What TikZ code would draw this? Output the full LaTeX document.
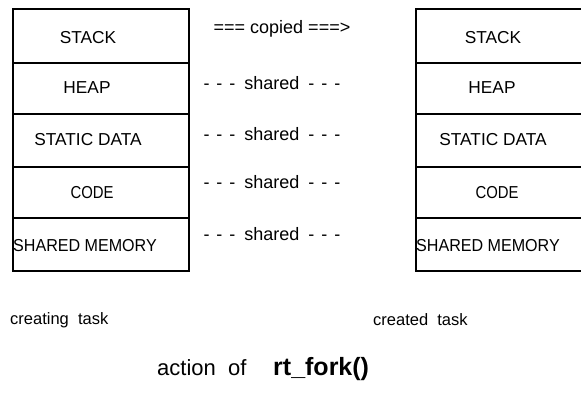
\documentclass[tikz,border=0pt]{standalone}
\usepackage{fontspec}
\setmainfont{Liberation Sans}
\begin{document}
\begin{tikzpicture}[x=1pt,y=-1pt,
  cell/.style={draw, line width=1.6pt, minimum width=176pt, inner sep=0pt, anchor=north west},
  seglabel/.style={font=\fontsize{17.3}{19}\selectfont, inner sep=0pt},
  midlabel/.style={font=\fontsize{18}{20}\selectfont, inner sep=0pt},
  tasklabel/.style={font=\fontsize{16.5}{19}\selectfont, inner sep=0pt, anchor=west}]
\useasboundingbox (0,0) rectangle (581,392);
\clip (0,0) rectangle (581,392);
% left box
\node[cell, minimum height=54pt] (lstack) at (12,8) {};
\node[cell, minimum height=51pt] (lheap) at (12,62) {};
\node[cell, minimum height=53pt] (lstatic) at (12,113) {};
\node[cell, minimum height=51pt] (lcode) at (12,166) {};
\node[cell, minimum height=53pt] (lshm) at (12,217) {};
% right box (extends past right edge)
\node[cell, minimum height=54pt] (rstack) at (415,8) {};
\node[cell, minimum height=51pt] (rheap) at (415,62) {};
\node[cell, minimum height=53pt] (rstatic) at (415,113) {};
\node[cell, minimum height=51pt] (rcode) at (415,166) {};
\node[cell, minimum height=53pt] (rshm) at (415,217) {};
% left labels
\node[seglabel] (t1) at (88,38) {STACK};
\node[seglabel] (t2) at (87,88) {HEAP};
\node[seglabel] (t3) at (88,140) {STATIC DATA};
\node[seglabel] (t4) at (92,193) {\scalebox{0.86}[1]{CODE}};
\node[seglabel] (t5) at (85,246) {\scalebox{0.93}[1]{SHARED MEMORY}};
% right labels
\node[seglabel] (u1) at (493,38) {STACK};
\node[seglabel] (u2) at (492,88) {HEAP};
\node[seglabel] (u3) at (493,140) {STATIC DATA};
\node[seglabel] (u4) at (497,193) {\scalebox{0.86}[1]{CODE}};
\node[seglabel] (u5) at (488,246) {\scalebox{0.93}[1]{SHARED MEMORY}};
% middle texts
\node[midlabel] (m1) at (282,29) {===\ copied\ ===>};
\node[midlabel] (m2) at (272,83) {-\hspace{7pt}-\hspace{7pt}-\hspace{9pt}shared\hspace{9pt}-\hspace{7pt}-\hspace{7pt}-};
\node[midlabel] (m3) at (272,134) {-\hspace{7pt}-\hspace{7pt}-\hspace{9pt}shared\hspace{9pt}-\hspace{7pt}-\hspace{7pt}-};
\node[midlabel] (m4) at (272,182) {-\hspace{7pt}-\hspace{7pt}-\hspace{9pt}shared\hspace{9pt}-\hspace{7pt}-\hspace{7pt}-};
\node[midlabel] (m5) at (272,234) {-\hspace{7pt}-\hspace{7pt}-\hspace{9pt}shared\hspace{9pt}-\hspace{7pt}-\hspace{7pt}-};
% task labels
\node[tasklabel] (c1) at (10,320) {creating\ \ task};
\node[tasklabel] (c2) at (373,320) {created\ \ task};
% title
\node[font=\fontsize{22}{24}\selectfont, inner sep=0pt, anchor=base west] (title) at (157,375) {action\ \ of};
\node[font=\fontsize{25}{27}\selectfont\bfseries, inner sep=0pt, anchor=base west] (fork) at (273,375) {rt\_fork()};
\end{tikzpicture}
\end{document}
